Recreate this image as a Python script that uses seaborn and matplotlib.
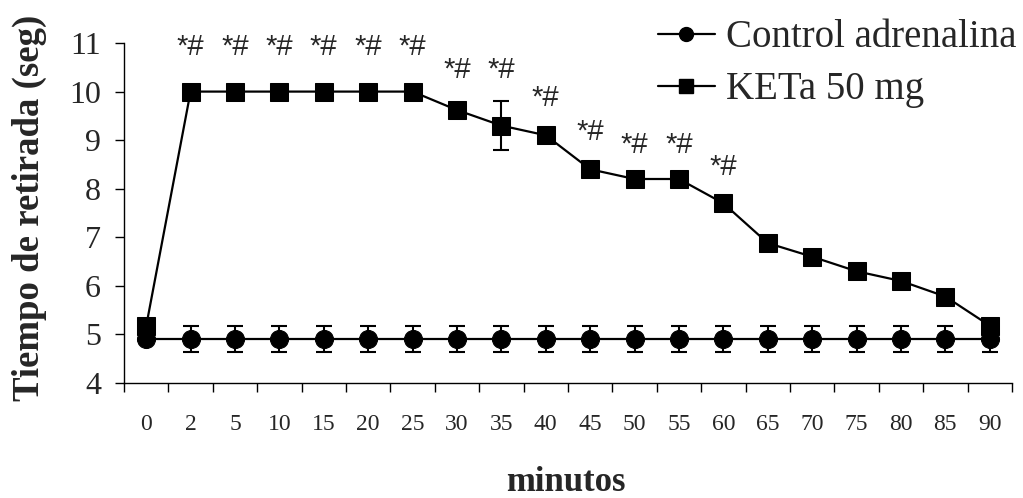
import numpy as np
import pandas as pd
import matplotlib
matplotlib.use("Agg")
import matplotlib.pyplot as plt
import seaborn as sns
from matplotlib.lines import Line2D

minutes = ["0", "2", "5", "10", "15", "20", "25", "30", "35", "40",
           "45", "50", "55", "60", "65", "70", "75", "80", "85", "90"]
control = [4.9] * 20
control_err = [0.0] + [0.27] * 19
keta = [5.17, 10.0, 10.0, 10.0, 10.0, 10.0, 10.0, 9.62, 9.3, 9.1,
        8.4, 8.2, 8.2, 7.7, 6.88, 6.6, 6.3, 6.1, 5.78, 5.18]
keta_err = [0.05, 0.05, 0.02, 0.02, 0.02, 0.02, 0.02, 0.05, 0.5, 0.1,
            0.12, 0.12, 0.12, 0.12, 0.1, 0.1, 0.1, 0.12, 0.12, 0.12]
sig_labels = ["", "*#", "*#", "*#", "*#", "*#", "*#", "*#", "*#", "*#",
              "*#", "*#", "*#", "*#", "", "", "", "", "", ""]
sig_height = [0, 10.92, 10.92, 10.92, 10.92, 10.92, 10.92, 10.44, 10.44, 9.87,
              9.17, 8.9, 8.9, 8.45, 0, 0, 0, 0, 0, 0]

sns.set_style("white")
plt.rcParams['font.family'] = ['Liberation Serif', 'DejaVu Serif']

fig = plt.figure(figsize=(10.23, 4.98), dpi=100)
ax = fig.add_axes([0.1212, 0.231, 0.868, 0.6826])

idx = np.arange(len(minutes))
df = pd.DataFrame({"x": np.concatenate([idx, idx]),
                   "y": control + keta,
                   "g": ["Control adrenalina"] * 20 + ["KETa 50 mg"] * 20})

ax.errorbar(idx, keta, yerr=keta_err, fmt="none", ecolor="black",
            elinewidth=1.5, capsize=5.8, capthick=1.5, zorder=2)
sns.lineplot(data=df[df.g == "KETa 50 mg"], x="x", y="y", ax=ax, color="black",
             marker="s", markersize=13, markeredgecolor="black", linewidth=1.6,
             legend=False, zorder=3)
ax.errorbar(idx, control, yerr=control_err, fmt="none", ecolor="black",
            elinewidth=1.5, capsize=5.8, capthick=1.5, zorder=4)
sns.lineplot(data=df[df.g == "Control adrenalina"], x="x", y="y", ax=ax, color="black",
             marker="o", markersize=13, markeredgecolor="black", linewidth=1.6,
             legend=False, zorder=5)

for i, (lab, h) in enumerate(zip(sig_labels, sig_height)):
    if lab:
        ax.text(i, h, lab, ha="center", va="center", fontsize=21,
                family=['Liberation Sans', 'DejaVu Sans'])

ax.set_xlim(-0.5, len(minutes) - 0.5)
ax.set_ylim(4, 11)
ax.set_yticks(range(4, 12))
ax.set_xticks(idx)
ax.set_xticklabels(minutes, fontsize=17)
ax.set_xticks(np.arange(-0.5, len(minutes)), minor=True)
ax.tick_params(axis="x", which="major", bottom=True, length=0, pad=22)
ax.tick_params(axis="x", which="minor", bottom=True, length=6.5, width=1,
               direction="out", color="black")
ax.tick_params(axis="y", left=True, length=6.5, width=1, direction="out",
               color="black", labelsize=23, pad=10)
for s in ["top", "right"]:
    ax.spines[s].set_visible(False)
for s in ["left", "bottom"]:
    ax.spines[s].set_color("black")
    ax.spines[s].set_linewidth(1)

ax.set_xlabel("minutos", fontsize=25, fontweight="bold")
ax.xaxis.set_label_coords(0.498, -0.243)
ax.set_ylabel("Tiempo de retirada (seg)", fontsize=26.5, fontweight="bold")
ax.yaxis.set_label_coords(-0.0867, 0.515)

handles = [Line2D([], [], color="black", marker="o", markersize=10, linewidth=1.6),
           Line2D([], [], color="black", marker="s", markersize=10, linewidth=1.6)]
fig.legend(handles, ["Control adrenalina", "KETa 50 mg"], loc="upper right",
           bbox_to_anchor=(1.013, 1.0), frameon=False, fontsize=28,
           handlelength=1.45, handletextpad=0.3, labelspacing=0.38, borderaxespad=0.1)

fig.savefig("out.png", dpi=100)
